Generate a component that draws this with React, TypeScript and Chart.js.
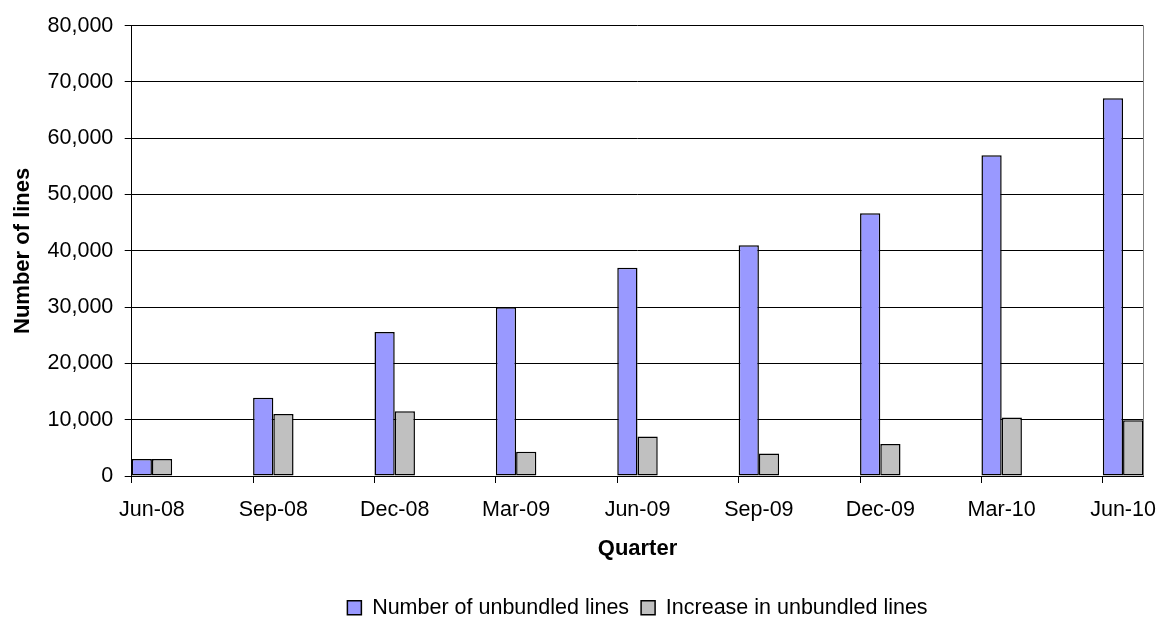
import React, { useEffect, useRef } from 'react';
import { Chart, registerables } from 'chart.js';

Chart.register(...registerables);

// ---- data ----
const QUARTERS = ['Jun-08', 'Sep-08', 'Dec-08', 'Mar-09', 'Jun-09', 'Sep-09', 'Dec-09', 'Mar-10', 'Jun-10'];
const UNBUNDLED_LINES = [3000, 13900, 25600, 30000, 37000, 41000, 46700, 57000, 67100];
const INCREASE_IN_LINES = [3000, 11000, 11500, 4300, 7000, 4000, 5700, 10400, 9900];
const SERIES_NAMES = ['Number of unbundled lines', 'Increase in unbundled lines'];
const Y_MIN = 0;
const Y_MAX = 80000;
const Y_STEP = 10000;
const X_TITLE = 'Quarter';
const Y_TITLE = 'Number of lines';

// a bar pair fills the first month of its quarter (date axis, month base unit)
const MONTH = 1 / 3;

const FONT = 'Liberation Sans, Arial, Helvetica, sans-serif';

export default function App() {
  const ref = useRef<HTMLCanvasElement | null>(null);

  useEffect(() => {
    const canvas = ref.current;
    if (!canvas) return;

    const toPoints = (vals: number[]) => vals.map((v, i) => ({ x: i + MONTH / 2, y: v }));

    const rightBorder = {
      id: 'rightBorder',
      beforeDatasetsDraw(chart: any) {
        const { ctx, chartArea } = chart;
        ctx.save();
        ctx.strokeStyle = '#808080';
        ctx.lineWidth = 1;
        const x = Math.round(chartArea.right) + 0.5;
        ctx.beginPath();
        ctx.moveTo(x, chartArea.top);
        ctx.lineTo(x, chartArea.bottom);
        ctx.stroke();
        ctx.restore();
      },
    };

    const chart = new Chart(canvas, {
      type: 'bar',
      data: {
        datasets: [
          {
            label: SERIES_NAMES[0],
            data: toPoints(UNBUNDLED_LINES),
            backgroundColor: '#9999FF',
            borderColor: '#000000',
            borderWidth: 1.5,
            borderSkipped: false,
          },
          {
            label: SERIES_NAMES[1],
            data: toPoints(INCREASE_IN_LINES),
            backgroundColor: '#C0C0C0',
            borderColor: '#000000',
            borderWidth: 1.5,
            borderSkipped: false,
          },
        ],
      },
      options: {
        responsive: false,
        animation: false,
        events: [],
        categoryPercentage: MONTH,
        barPercentage: 1,
        layout: { padding: { top: 25.7, right: 14.7, bottom: -9.45, left: 0 } },
        plugins: {
          tooltip: { enabled: false },
          legend: {
            position: 'bottom',
            fullSize: false,
            labels: {
              boxWidth: 14,
              boxHeight: 14,
              padding: 12,
              color: '#000',
              font: { family: FONT, size: 21.5 },
            },
          },
        },
        scales: {
          x: {
            type: 'linear',
            offset: false,
            min: 0,
            max: QUARTERS.length - 1 + MONTH,
            grid: {
              offset: false,
              display: true,
              drawOnChartArea: false,
              drawTicks: true,
              tickLength: 7,
              color: '#000',
            },
            border: { display: true, color: '#000', width: 1 },
            ticks: {
              stepSize: 1,
              includeBounds: false,
              autoSkip: false,
              maxRotation: 0,
              minRotation: 0,
              labelOffset: 20.23,
              padding: 14.65,
              color: '#000',
              font: { family: FONT, size: 21.5 },
              callback: (v: any) => {
                const i = Math.round(Number(v));
                return Math.abs(Number(v) - i) < 1e-6 && QUARTERS[i] !== undefined ? QUARTERS[i] : '';
              },
            },
            title: {
              display: true,
              text: X_TITLE,
              color: '#000',
              font: { family: FONT, size: 22, weight: 'bold' },
              padding: { top: 0, bottom: 22.35 },
            },
            afterFit: (scale: any) => {
              scale.height = 108.95;
            },
          },
          y: {
            type: 'linear',
            min: Y_MIN,
            max: Y_MAX,
            grid: {
              display: true,
              drawOnChartArea: true,
              drawTicks: true,
              tickLength: 7,
              color: '#000',
            },
            border: { display: true, color: '#000', width: 1 },
            ticks: {
              stepSize: Y_STEP,
              padding: 11.4,
              color: '#000',
              font: { family: FONT, size: 21.5 },
              callback: (v: any) => Number(v).toLocaleString('en-US'),
            },
            title: {
              display: true,
              text: Y_TITLE,
              color: '#000',
              font: { family: FONT, size: 22, weight: 'bold' },
              padding: { top: 9.3, bottom: 0 },
            },
            afterFit: (scale: any) => {
              scale.width = 131.7;
            },
          },
        },
      },
      plugins: [rightBorder],
    } as any);

    return () => chart.destroy();
  }, []);

  return (
    <div style={{ position: 'absolute', left: 0, top: 0, width: 1158, height: 619, background: '#fff' }}>
      <canvas ref={ref} width={1158} height={619} style={{ display: 'block' }} />
    </div>
  );
}
